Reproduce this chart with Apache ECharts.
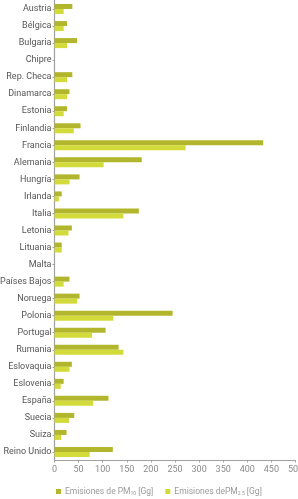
<!DOCTYPE html>
<html>
<head>
<meta charset="utf-8">
<script src="https://cdn.jsdelivr.net/npm/echarts@6/dist/echarts.min.js"></script>
<style>
html,body{margin:0;padding:0;background:#fff;}
#chart{width:298px;height:499px;}
</style>
</head>
<body>
<div id="chart"></div>
<script>
var categories = ["Austria","Bélgica","Bulgaria","Chipre","Rep. Checa","Dinamarca","Estonia","Finlandia","Francia","Alemania","Hungría","Irlanda","Italia","Letonia","Lituania","Malta","Países Bajos","Noruega","Polonia","Portugal","Rumania","Eslovaquia","Eslovenia","España","Suecia","Suiza","Reino Unido"];
var pm10 = [37,26,47,0,37,31,26,54,433,181,52,15,175,36,15,0,31,52,245,106,133,36,19,112,41,25,121];
var pm25 = [19,19,26,0,26,26,19,40,272,102,31,9,143,29,15,0,19,47,122,78,143,31,13,80,30,14,73];
var xTicks = [0,50,100,150,200,250,300,350,400,450,500];
var seriesNames = ["Emisiones de PM10 [Gg]","Emisiones dePM2.5 [Gg]"];

var chart = echarts.init(document.getElementById('chart'));
chart.setOption({
  animation:false,
  backgroundColor:'#ffffff',
  grid:{left:54.5,right:2.5,top:0.5,bottom:38.5,containLabel:false,outerBoundsMode:'none'},
  legend:{
    data:seriesNames,
    left:51,
    top:482,
    itemWidth:5,
    itemHeight:5,
    itemGap:12,
    icon:'rect',
    formatter:function(n){
      if(n===seriesNames[0]) return 'Emisiones de PM{s|10} [Gg]';
      return 'Emisiones dePM{s|2.5} [Gg]';
    },
    textStyle:{color:'#9a9a9a',fontSize:8.5,fontFamily:'Roboto',padding:[0,0,0,-1],
      rich:{s:{fontSize:5,color:'#9a9a9a',fontFamily:'Roboto',verticalAlign:'bottom',padding:[3,0,0,0]}}}
  },
  xAxis:{
    type:'value',min:0,max:xTicks[xTicks.length-1],interval:xTicks[1]-xTicks[0],
    axisLine:{show:true,lineStyle:{color:'#a0a0a0',width:1}},
    axisTick:{show:true,length:2,lineStyle:{color:'#a0a0a0'}},
    splitLine:{show:false},
    axisLabel:{color:'#8a8a8a',fontSize:9,fontFamily:'Roboto',margin:5}
  },
  yAxis:{
    type:'category',data:categories,inverse:true,
    axisLine:{show:true,lineStyle:{color:'#a0a0a0',width:1.2}},
    axisTick:{show:true,length:2,alignWithLabel:true,lineStyle:{color:'#a0a0a0'}},
    axisLabel:{color:'#555555',fontSize:9,fontFamily:'Roboto',margin:3,interval:0}
  },
  series:[
    {name:seriesNames[0],type:'bar',data:pm10,barWidth:5,barGap:'0%',itemStyle:{color:'#b2b62c'}},
    {name:seriesNames[1],type:'bar',data:pm25,barWidth:5,itemStyle:{color:'#d2db3a'}}
  ]
});
</script>
</body>
</html>
